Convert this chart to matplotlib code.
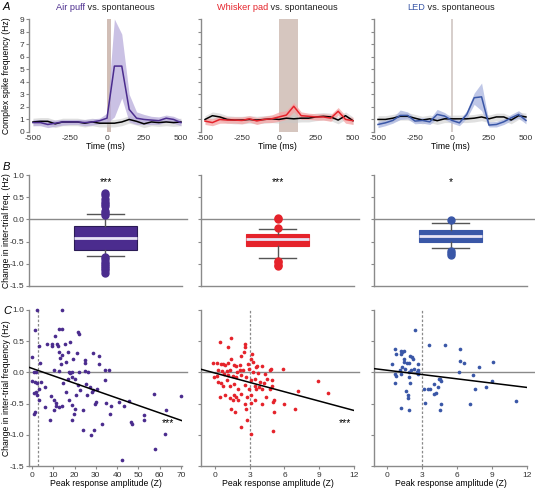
import numpy as np
import matplotlib
matplotlib.use('Agg')
import matplotlib.pyplot as plt

plt.rcParams['font.family'] = ['Liberation Sans', 'DejaVu Sans']
plt.rcParams['font.size'] = 6.2
plt.rcParams['axes.unicode_minus'] = False

# ---- colours
purple = '#4b2c8e'
red = '#e5232b'
blue = '#3a57a7'
names = ['Air puff', 'Whisker pad', 'LED']
cols = [purple, red, blue]

# ---- row A: PSTH traces (50 ms grid)
t = np.arange(-500, 501, 50)
puff_mean = [0.75, 0.75, 0.6, 0.7, 0.8, 0.8, 0.8, 0.75, 0.8, 0.9, 1.1, 5.25, 5.25, 1.8, 1.1, 1.0, 0.95, 0.9, 1.1, 1.0, 0.75]
puff_hi = [1.0, 1.0, 0.95, 0.95, 1.0, 1.0, 1.0, 1.0, 1.05, 1.1, 1.5, 9.0, 7.8, 3.0, 1.6, 1.4, 1.25, 1.2, 1.35, 1.25, 1.0]
puff_lo = [0.5, 0.5, 0.35, 0.45, 0.55, 0.6, 0.6, 0.5, 0.55, 0.65, 0.7, 1.2, 2.7, 0.8, 0.6, 0.6, 0.6, 0.6, 0.8, 0.7, 0.5]
puff_spont = [0.8, 0.85, 0.85, 0.65, 0.8, 0.8, 0.8, 0.7, 0.8, 0.7, 0.7, 0.7, 0.8, 1.0, 0.85, 0.65, 0.8, 0.75, 0.8, 0.75, 0.8]
whisk_mean = [0.87, 0.75, 1.0, 0.95, 0.95, 0.92, 1.05, 0.88, 1.0, 1.05, 1.2, 1.35, 2.05, 1.3, 1.25, 1.2, 1.2, 1.1, 1.65, 1.0, 0.9]
whisk_hi = [1.15, 1.05, 1.3, 1.2, 1.2, 1.2, 1.3, 1.15, 1.25, 1.35, 1.6, 1.7, 2.35, 1.6, 1.5, 1.45, 1.45, 1.4, 1.95, 1.3, 1.15]
whisk_lo = [0.6, 0.5, 0.7, 0.7, 0.7, 0.65, 0.8, 0.6, 0.75, 0.75, 0.85, 1.0, 1.6, 1.0, 1.0, 0.95, 0.95, 0.85, 1.35, 0.7, 0.6]
whisk_spont = [1.0, 1.3, 1.2, 1.0, 0.95, 0.95, 1.0, 0.95, 1.0, 1.05, 1.0, 1.1, 1.05, 1.1, 1.1, 1.2, 1.25, 1.2, 0.95, 1.3, 0.9]
led_mean = [0.6, 0.73, 0.92, 1.32, 1.32, 0.87, 0.92, 0.81, 1.4, 1.27, 0.92, 0.73, 1.4, 2.73, 2.8, 0.55, 0.6, 0.81, 1.13, 1.4, 0.92]
led_hi = [0.85, 0.95, 1.15, 1.75, 1.6, 1.1, 1.15, 1.05, 1.8, 1.55, 1.15, 0.95, 1.7, 3.1, 3.9, 0.8, 0.85, 1.05, 1.4, 1.7, 1.2]
led_lo = [0.35, 0.5, 0.7, 1.0, 1.05, 0.65, 0.7, 0.6, 1.05, 1.0, 0.7, 0.5, 1.1, 2.2, 1.7, 0.4, 0.4, 0.6, 0.9, 1.1, 0.65]
led_spont = [1.0, 1.0, 1.1, 1.25, 1.25, 1.1, 0.95, 1.05, 0.9, 1.05, 1.05, 1.05, 1.05, 1.1, 1.2, 1.05, 1.2, 1.2, 0.95, 1.3, 1.2]
spont_band = 0.3
stim_windows = [(0, 25), (0, 130), (0, 4)]

# ---- row B: box stats
box_q1 = [-0.70, -0.61, -0.52]
box_med = [-0.43, -0.45, -0.38]
box_q3 = [-0.15, -0.34, -0.25]
box_lo = [-0.82, -0.88, -0.65]
box_hi = [0.12, -0.22, -0.07]
box_fliers = [
    [0.1, 0.15, 0.2, 0.3, 0.35, 0.4, 0.45, 0.55, 0.6, -0.85, -0.9, -0.95, -1.0, -1.05, -1.1, -1.15, -1.2],
    [0.03, 0.0, -0.2, -0.93, -0.97, -1.02, -1.06],
    [-0.02, -0.72, -0.76, -0.8],
]
box_stars = ['***', '***', '*']

# ---- row C: scatter
c1_x = [2.4, 14, 1.6, 12.8, 13.9, 10.7, 21.4, 22, 17.8, 11.7, 9.3, 9.6, 7.2, 3.3, 12.3, 15.4, 12.8, 17, 21, 28.5,
        31.5, 14.2, 13, 16.2, 13.5, 19.4, 25, 24.8, 31.6, 3.6, 12.8, 10.2, 17.5, 17.8, 19, 22.2, 24.8, 26.5, 34.2, 36,
        34.3, 0.8, 2, 0, 1.3, 2.4, 4.4, 6, 3.3, 2, 2.4, 3.3, 1.6, 0.9, 6, 8.8, 10.4, 11.2, 11.5, 12.8,
        14, 10.4, 8.3, 14.6, 16.2, 17, 18.6, 20.3, 21.7, 22.5, 25.4, 27.2, 28, 28.8, 30.4, 30, 29.6, 26, 20.5, 19,
        17.5, 20.2, 19.7, 19, 24, 24, 27.7, 29, 32.8, 34.8, 37, 36.8, 40.8, 43.3, 45.4, 46.6, 47.2, 52.8, 52.8, 42.5,
        58, 57.2, 63, 62.7, 69.8, 0.2, 1]
c1_y = [1.0, 1.0, 0.68, 0.70, 0.69, 0.59, 0.64, 0.62, 0.48, 0.45, 0.45, 0.42, 0.46, 0.42, 0.42, 0.45, 0.33, 0.33, 0.31, 0.31,
        0.27, 0.28, 0.23, 0.17, 0.13, 0.21, 0.2, 0.15, 0.13, 0.15, 0.03, 0.04, 0.01, -0.01, 0.01, 0.0, 0.03, 0.0, 0.04, 0.04,
        -0.12, 0.01, 0.01, 0.24, -0.15, -0.17, -0.15, -0.23, -0.26, -0.31, -0.37, -0.44, -0.63, -0.66, -0.55, -0.38, -0.44, -0.49, -0.54, -0.56,
        -0.54, -0.61, -0.76, -0.17, -0.31, -0.1, -0.07, -0.1, -0.2, -0.28, -0.18, -0.23, -0.31, -0.29, -0.27, -0.47, -0.5, -0.37, -0.37, -0.53,
        -0.45, -0.58, -0.66, -0.77, -0.61, -0.93, -1.01, -0.93, -0.82, -0.49, -0.54, -0.66, -0.47, -0.54, -0.46, -0.8, -0.82, -0.69, -0.77, -1.40,
        -1.23, -0.34, -0.6, -0.98, -0.38, -0.13, -0.33]
c2_x = [1.43, 0.43, 1.09, 2.57, 2.63, 2.51, 2.29, 3.23, 3.09, 1.37, -0.14, 0.14, 0.51, 0.7, 0.86, 1.14, 1.66, 1.8, 2.14, 2.86,
        3.66, 4.06, 4.86, 5.86, 4.71, 0.29, 0.57, 1.0, 1.29, 1.94, 2.43, 2.91, 3.29, 3.71, 4.29, 0.8, 1.14, 1.57, 1.86, 2.29,
        2.71, 3.14, 3.43, 3.86, 4.51, 4.91, 0.29, 0.51, -0.06, 1.0, 0.71, 1.29, 1.66, 2.0, 2.57, 2.91, 3.43, 3.57, 3.77, 4.06,
        4.23, 4.71, 4.91, 3.14, 2.8, 2.23, 1.66, 1.86, 2.0, 1.57, 1.29, 0.86, 0.43, 2.57, 3.14, 3.43, 4.06, 4.43, 5.14, 5.0,
        6.0, 6.91, 7.14, 8.86, 9.77, 5.14, 2.71, 1.43, 1.71, 2.8, 2.29, 3.09, 5.0, 0.14, 2.14, 3.29, 3.57]
c2_y = [0.55, 0.49, 0.40, 0.46, 0.41, 0.33, 0.26, 0.30, 0.21, 0.21, 0.15, 0.15, 0.13, 0.14, 0.12, 0.15, 0.12, 0.1, 0.12, 0.13,
        0.10, 0.10, 0.05, 0.06, 0.04, 0.04, 0.03, 0.02, 0.04, 0.01, 0.04, 0.05, 0.01, -0.01, -0.02, -0.03, -0.04, -0.06, -0.07, -0.04,
        -0.08, -0.12, -0.1, -0.15, -0.1, -0.12, -0.15, -0.17, -0.07, -0.12, -0.22, -0.22, -0.18, -0.26, -0.2, -0.26, -0.22, -0.27, -0.23, -0.26,
        -0.17, -0.27, -0.22, -0.37, -0.39, -0.35, -0.37, -0.4, -0.45, -0.45, -0.41, -0.37, -0.4, -0.5, -0.49, -0.44, -0.5, -0.4, -0.45, -0.48,
        -0.5, -0.58, -0.3, -0.14, -0.33, -0.63, -0.58, -0.58, -0.63, -0.76, -0.87, -0.98, -0.94, -0.06, 0.04, 0.17, 0.09]
c3_x = [2.43, 3.57, 5, 6.29, 6.29, 6.57, 7.86, 9.09, 6.14, 7.37, 9, 8.51, 7.57, 11.09, 7.09, 4.63, 4.51, 3.29, 3.2, 3.49,
        3.71, 4.06, 4.34, 4.23, 4.06, 4.43, 4.57, 4.63, 2.71, 2.71, 2.71, 2.57, 2.29, 2.06, 1.86, 1.71, 1.86, 1.43, 1.29, 1.14,
        1.2, 0.71, 0.77, 0.43, 0.66, 0.71, 0.77, 1.2, 1.29, 1.43, 1.2, 1.51, 2.0, 2.14, 2.2, 1.86, 1.94, 1.66, 1.77, 1.77,
        1.2, 1.86, 2.63, 1.57]
c3_y = [0.68, 0.44, 0.44, 0.37, 0.19, 0.15, 0.09, 0.16, 0.0, -0.04, -0.13, -0.23, -0.27, -0.46, -0.51, -0.5, -0.61, -0.49, -0.26, -0.27,
        -0.27, -0.18, -0.23, -0.33, -0.35, -0.1, -0.11, -0.13, 0.04, -0.02, 0.13, 0.01, 0.05, 0.04, 0.01, 0.15, 0.15, 0.16, 0.08, 0.04,
        -0.02, -0.02, -0.05, 0.13, -0.17, 0.37, 0.29, 0.35, 0.33, 0.34, 0.29, 0.22, 0.26, 0.24, 0.22, -0.08, -0.17, -0.3, -0.37, -0.41,
        -0.57, -0.6, -0.01, 0.05]
scat_x = [c1_x, c2_x, c3_x]
scat_y = [c1_y, c2_y, c3_y]
fit_int = [0.065, -0.01, 0.035]
fit_slope = [-0.0119, -0.05, -0.023]
c_xlim = [(-1.4, 70.5), (-1.2, 12), (-1.1, 12)]
c_xticks = [np.arange(0, 71, 10), [0, 3, 6, 9, 12], [0, 3, 6, 9, 12]]
c_stars = [(64, -0.82, '***'), (11.2, -0.82, '***'), None]

W, H = 535, 490
fig = plt.figure(figsize=(W / 100, H / 100), dpi=100)

def pos(l, top, w, bot):
    return [l / W, 1 - bot / H, w / W, (bot - top) / H]

lefts = [29, 201, 374]
grey = '#8a8a8a'
lab_fs = 6.2
ylab_x = -0.118

def style(ax):
    for s in ['top', 'right']:
        ax.spines[s].set_visible(False)
    for s in ['left', 'bottom']:
        ax.spines[s].set_color(grey)
        ax.spines[s].set_linewidth(1)
    ax.tick_params(colors='#333333', labelsize=6.0, length=2.5, width=0.8, pad=1)
    ax.tick_params(axis='both', color=grey)

traces = [(puff_mean, puff_lo, puff_hi, puff_spont),
          (whisk_mean, whisk_lo, whisk_hi, whisk_spont),
          (led_mean, led_lo, led_hi, led_spont)]
bands = ['#b9addb', '#f5a3a3', '#aab5df']

title_texts = []
for i in range(3):
    ax = fig.add_axes(pos(lefts[i], 19, 153, 132))
    style(ax)
    m, lo, hi, sp = traces[i]
    s0, s1 = stim_windows[i]
    if i == 2:
        ax.axvline(0, color='#cfc6c2', lw=1.2, zorder=0)
    else:
        ax.axvspan(s0, s1, color='#c9b3aa', alpha=0.85 if i == 0 else 0.75, lw=0, zorder=0)
    sp = np.array(sp)
    ax.fill_between(t, sp - spont_band, sp + spont_band, color='#c8c8c8', alpha=0.55, lw=0, zorder=1)
    ax.fill_between(t, lo, hi, color=bands[i], alpha=0.75, lw=0, zorder=2)
    ax.plot(t, sp, color='black', lw=1.1, zorder=3)
    ax.plot(t, m, color=cols[i], lw=1.1, zorder=4)
    ax.set_xlim(-527, 507)
    ax.set_ylim(0, 9)
    ax.set_yticks(range(10))
    ax.set_xticks([-500, -250, 0, 250, 500])
    ax.spines['bottom'].set_visible(False)
    ax.tick_params(axis='x', length=0, pad=2)
    ax.set_xlabel('Time (ms)', labelpad=0.5, fontsize=lab_fs)
    if i == 0:
        ax.set_ylabel('Complex spike frequency (Hz)', fontsize=lab_fs)
        ax.yaxis.set_label_coords(ylab_x, 0.5)
    else:
        ax.set_yticklabels([])
    t1 = ax.text(0.5, 1.0, names[i], color=cols[i], transform=ax.transAxes,
                 ha='left', va='bottom', fontsize=6.6)
    t2 = ax.annotate(' vs. spontaneous', xy=(1, 0), xycoords=t1, ha='left', va='bottom',
                     fontsize=6.6, color='#222222')
    title_texts.append((ax, t1, t2))

for i in range(3):
    ax = fig.add_axes(pos(lefts[i], 175, 153, 286))
    style(ax)
    stats = [dict(med=box_med[i], q1=box_q1[i], q3=box_q3[i], whislo=box_lo[i],
                  whishi=box_hi[i], fliers=box_fliers[i])]
    ext = 1.06 if i == 2 else 1.03
    ax.axhline(0, xmin=0, xmax=ext, color=grey, lw=1, clip_on=False, zorder=0)
    ax.bxp(stats, positions=[0.5], widths=0.41, patch_artist=True,
           boxprops=dict(facecolor=cols[i], edgecolor='#2a1b55' if i == 0 else cols[i], lw=0.8),
           medianprops=dict(color='#e8e4f5', lw=2),
           whiskerprops=dict(color='#555555', lw=1),
           capprops=dict(color='#555555', lw=1),
           flierprops=dict(marker='o', markerfacecolor=cols[i], markeredgecolor=cols[i], markersize=5),
           capwidths=0.24)
    ax.set_xlim(0, 1)
    ax.set_ylim(-1.5, 1.0)
    ax.set_yticks(np.arange(-1.5, 1.01, 0.5))
    ax.set_xticks([])
    ax.text(0.5, 0.85, box_stars[i], ha='center', va='center', fontsize=7.5)
    if i == 0:
        ax.set_yticklabels(['-1.5', '-1.0', '-0.5', '0.0', '0.5', '1.0'])
        ax.set_ylabel('Change in inter-trial freq. (Hz)', fontsize=lab_fs)
        ax.yaxis.set_label_coords(ylab_x, 0.5)
    else:
        ax.set_yticklabels([])

for i in range(3):
    ax = fig.add_axes(pos(lefts[i], 310, 153, 466))
    style(ax)
    ext = 1.06 if i == 2 else 1.03
    ax.axhline(0, xmin=0, xmax=ext, color=grey, lw=1, clip_on=False, zorder=0)
    ax.axvline(3, color='#8a8a8a', lw=0.9, ls=(0, (2, 1.5)), zorder=0)
    ax.scatter(scat_x[i], scat_y[i], s=7, color=cols[i], lw=0, zorder=2, clip_on=False)
    xl = np.array(c_xlim[i])
    ax.plot(xl, fit_int[i] + fit_slope[i] * xl, color='black', lw=1.1, zorder=3)
    ax.set_xlim(*c_xlim[i])
    ax.set_ylim(-1.5, 1.0)
    ax.set_xticks(c_xticks[i])
    ax.set_yticks(np.arange(-1.5, 1.01, 0.5))
    ax.tick_params(axis='x', pad=1.5)
    ax.set_xlabel('Peak response amplitude (Z)', labelpad=0.5, fontsize=lab_fs)
    if c_stars[i]:
        ax.text(c_stars[i][0], c_stars[i][1], c_stars[i][2], ha='center', va='center', fontsize=7.5)
    if i == 0:
        ax.set_yticklabels(['-1.5', '-1.0', '-0.5', '0.0', '0.5', '1.0'])
        ax.set_ylabel('Change in inter-trial frequency (Hz)', fontsize=lab_fs)
        ax.yaxis.set_label_coords(ylab_x, 0.5)
    else:
        ax.set_yticklabels([])

for lab, y in [('A', 7), ('B', 167), ('C', 311)]:
    fig.text(3 / W, 1 - y / H, lab, fontsize=8, style='italic', ha='left', va='center')

# centre the two-colour titles over each panel
fig.canvas.draw()
r = fig.canvas.get_renderer()
for ax, t1, t2 in title_texts:
    w1 = t1.get_window_extent(r).width
    w2 = t2.get_window_extent(r).width
    axw = ax.get_window_extent(r).width
    t1.set_position((0.5 - (w1 + w2) / 2 / axw, 1.0 + 7 / ax.get_window_extent(r).height))

fig.savefig('out.png', dpi=100)
